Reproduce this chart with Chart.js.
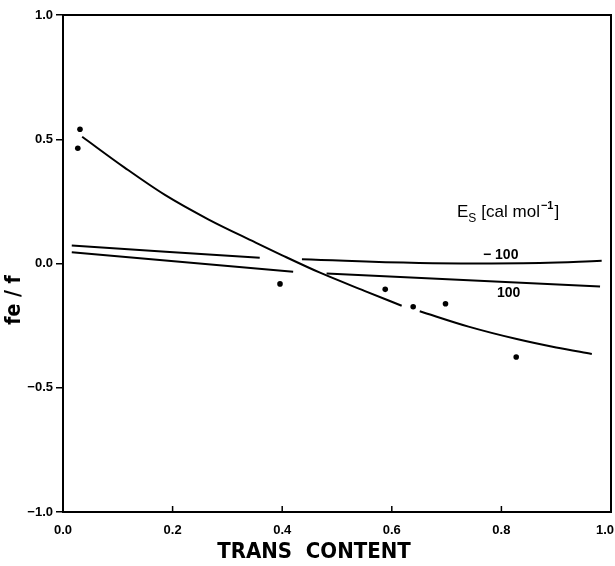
<!DOCTYPE html>
<html>
<head>
<meta charset="utf-8">
<script src="https://cdn.jsdelivr.net/npm/chart.js@4/dist/chart.umd.min.js"></script>
<style>
  html, body { margin: 0; padding: 0; background: #fff; }
  #wrap { width: 615px; height: 566px; }
</style>
</head>
<body>
<div id="wrap"><canvas id="plot" width="615" height="566"></canvas></div>
<script>
// measured points
const pointsX = [0.027, 0.031, 0.396, 0.588, 0.639, 0.698, 0.827];
const pointsY = [0.464, 0.54, -0.082, -0.104, -0.174, -0.162, -0.376];

// fitted curve (gap drawn in the original near 0.63)
const curveX = [0.035, 0.113, 0.186, 0.265, 0.35, 0.40, 0.469, 0.55, 0.618, 0.634, 0.651, 0.74, 0.828, 0.9, 0.965];
const curveY = [0.51, 0.385, 0.276, 0.178, 0.086, 0.033, -0.037, -0.11, -0.17, null, -0.192, -0.254, -0.304, -0.338, -0.364];

// Es = -100 cal/mol
const lineMinusX = [0.016, 0.359, 0.40, 0.436, 0.65, 0.87, 0.983];
const lineMinusY = [0.072, 0.023, null, 0.017, 0.002, 0.002, 0.011];

// Es = 100 cal/mol
const linePlusX = [0.016, 0.42, 0.45, 0.481, 0.98];
const linePlusY = [0.045, -0.033, null, -0.04, -0.093];

const xTicks = [0, 0.2, 0.4, 0.6, 0.8, 1.0];

function toPoints(xs, ys) {
    return xs.map((x, i) => ({ x: x, y: ys[i] }));
}

function fmt(v) {
    const s = Math.abs(v).toFixed(1);
    return v < 0 ? "\u2212" + s : s;
}

const tickFont = "bold 13px 'Liberation Sans', Arial, sans-serif";
const narrow = "'Liberation Sans Narrow', 'DejaVu Sans Condensed', sans-serif";

// frame, inward x ticks, x labels and texts
const decorations = {
    id: "decorations",
    afterDraw(chart) {
        const ctx = chart.ctx;
        const a = chart.chartArea;
        const xs = chart.scales.x;
        ctx.save();
        ctx.strokeStyle = "#000";
        ctx.lineWidth = 2;
        ctx.strokeRect(a.left, a.top, a.right - a.left, a.bottom - a.top);

        ctx.lineWidth = 1.5;
        ctx.fillStyle = "#000";
        ctx.font = tickFont;
        ctx.textBaseline = "middle";
        xTicks.forEach((v, i) => {
            const px = xs.getPixelForValue(v);
            ctx.beginPath();
            ctx.moveTo(px, a.bottom);
            ctx.lineTo(px, a.bottom - 6);
            ctx.stroke();
            if (i === xTicks.length - 1) {
                ctx.textAlign = "right";
                ctx.fillText(fmt(v), px + 3, 530);
            } else {
                ctx.textAlign = "center";
                ctx.fillText(fmt(v), px, 530);
            }
        });

        // axis titles
        ctx.font = "bold 22px " + narrow;
        ctx.textAlign = "center";
        ctx.fillText("TRANS  CONTENT", 314, 552);
        ctx.save();
        ctx.translate(15, 300);
        ctx.rotate(-Math.PI / 2);
        ctx.font = "bold 21px " + narrow;
        ctx.fillText("fe / f", 0, 0);
        ctx.restore();

        // curve labels
        ctx.font = "bold 14px 'Liberation Sans', Arial, sans-serif";
        ctx.textAlign = "left";
        ctx.fillText("\u2212 100", 483, 255);
        ctx.fillText("100", 497, 293);

        // legend title  Es [cal mol^-1]
        ctx.textBaseline = "alphabetic";
        let x = 457;
        const base = 217;
        ctx.font = "17px 'Liberation Sans', Arial, sans-serif";
        ctx.fillText("E", x, base);
        x += ctx.measureText("E").width;
        ctx.font = "12px 'Liberation Sans', Arial, sans-serif";
        ctx.fillText("S", x, base + 5);
        x += ctx.measureText("S").width + 5;
        ctx.font = "17px 'Liberation Sans', Arial, sans-serif";
        ctx.fillText("[cal mol", x, base);
        x += ctx.measureText("[cal mol").width;
        ctx.font = "bold 11px 'Liberation Sans', Arial, sans-serif";
        ctx.fillText("\u22121", x + 1, base - 8);
        x += ctx.measureText("\u22121").width + 2;
        ctx.font = "17px 'Liberation Sans', Arial, sans-serif";
        ctx.fillText("]", x, base);
        ctx.restore();
    }
};

const lineStyle = {
    type: "line",
    borderColor: "#000",
    borderWidth: 2,
    pointRadius: 0,
    spanGaps: false,
    fill: false
};

new Chart(document.getElementById("plot").getContext("2d"), {
    data: {
        datasets: [
            Object.assign({}, lineStyle, { data: toPoints(curveX, curveY), cubicInterpolationMode: "monotone" }),
            Object.assign({}, lineStyle, { data: toPoints(lineMinusX, lineMinusY), tension: 0.4 }),
            Object.assign({}, lineStyle, { data: toPoints(linePlusX, linePlusY), tension: 0 }),
            {
                type: "scatter",
                data: toPoints(pointsX, pointsY),
                pointRadius: 2.8,
                pointBackgroundColor: "#000",
                pointBorderWidth: 0
            }
        ]
    },
    options: {
        responsive: false,
        animation: false,
        layout: { padding: { top: 15, right: 4, left: 0, bottom: 0 } },
        plugins: { legend: { display: false }, tooltip: { enabled: false } },
        scales: {
            x: {
                type: "linear",
                min: 0,
                max: 1,
                border: { display: false },
                grid: { display: false },
                ticks: { display: false },
                afterFit(scale) {
                    scale.height = 54;
                    scale.paddingLeft = 0;
                    scale.paddingRight = 0;
                }
            },
            y: {
                min: -1,
                max: 1,
                border: { display: false },
                grid: { drawOnChartArea: false, tickLength: 7, color: "#000", lineWidth: 1.5 },
                ticks: {
                    stepSize: 0.5,
                    padding: 3,
                    color: "#000",
                    font: { family: "'Liberation Sans', Arial, sans-serif", size: 13, weight: "bold" },
                    callback: (v) => fmt(v)
                },
                afterFit(scale) {
                    scale.width = 63;
                    scale.paddingTop = 0;
                    scale.paddingBottom = 0;
                }
            }
        }
    },
    plugins: [decorations]
});
</script>
</body>
</html>
